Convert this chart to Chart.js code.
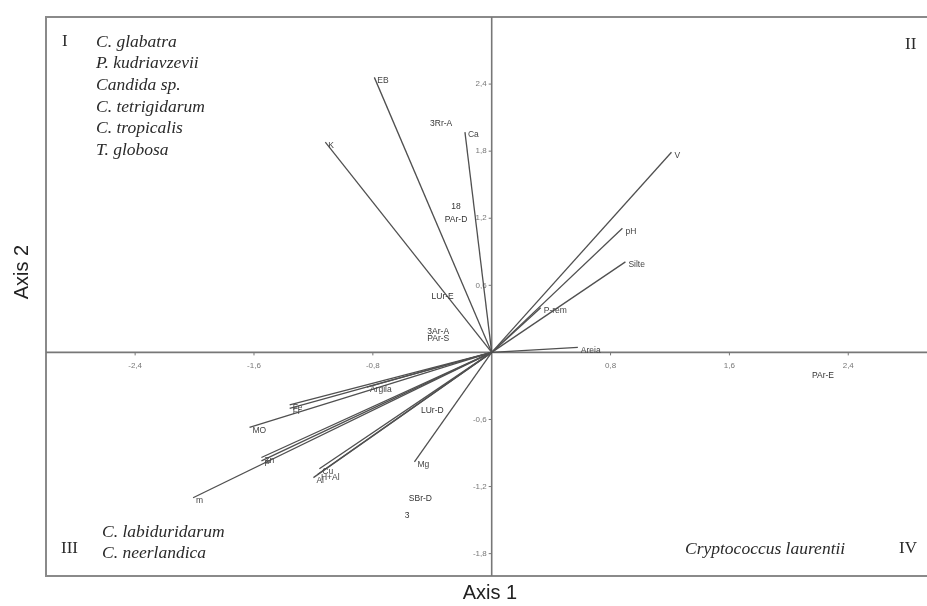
<!DOCTYPE html>
<html>
<head>
<meta charset="utf-8">
<script src="https://cdn.jsdelivr.net/npm/chart.js@4.4.1/dist/chart.umd.min.js"></script>
<style>
html,body{margin:0;padding:0;background:#fff;}
#wrap{width:927px;height:606px;position:relative;}
</style>
</head>
<body>
<div id="wrap"><canvas id="c" width="927" height="606"></canvas></div>
<script>
// Environmental vectors (biplot arrows)
const vectorNames = ['EB','K','Ca','V','pH','Silte','P-rem','Areia','Argila','Fr','Fe','MO','P','Zn','m','Cu','H+Al','Al','Mg'];
const vectorX = [-0.79,-1.12,-0.18,1.21,0.88,0.90,0.33,0.58,-0.84,-1.36,-1.36,-1.63,-1.55,-1.55,-2.01,-1.16,-1.17,-1.20,-0.52];
const vectorY = [2.46,1.88,1.97,1.79,1.11,0.81,0.40,0.045,-0.31,-0.50,-0.47,-0.67,-0.97,-0.94,-1.30,-1.04,-1.09,-1.12,-0.98];
// Sample labels
const sampleLabels = ['3Rr-A','18','PAr-D','LUr-E','3Ar-A','PAr-S','PAr-E','LUr-D','SBr-D','3'];
const sampleX = [-0.34,-0.24,-0.24,-0.33,-0.36,-0.36,2.23,-0.40,-0.48,-0.57];
const sampleY = [2.05,1.30,1.19,0.50,0.19,0.12,-0.21,-0.52,-1.31,-1.46];
// Axis ticks
const xTicks = [-2.4,-1.6,-0.8,0.8,1.6,2.4];
const yTicks = [2.4,1.8,1.2,0.6,-0.6,-1.2,-1.8];
const xRange = [-3.0, 2.93];
const yRange = [-2.0, 3.0];
// Quadrant texts
const quadI = ['C. glabatra','P. kudriavzevii','Candida sp.','C. tetrigidarum','C. tropicalis','T. globosa'];
const quadIII = ['C. labiduridarum','C. neerlandica'];
const quadIV = ['Cryptococcus laurentii'];

const datasets = vectorNames.map((n,i)=>({
  label:n,
  data:[{x:0,y:0},{x:vectorX[i],y:vectorY[i]}],
  showLine:true, borderColor:'#505050', borderWidth:1.3, pointRadius:0, fill:false
}));
datasets.push({
  label:'samples',
  data:sampleLabels.map((s,i)=>({x:sampleX[i],y:sampleY[i]})),
  showLine:false, pointRadius:0
});

const fmt = v => String(v).replace('.',',');

const decor = {
  id:'decor',
  beforeDatasetsDraw(chart){
    const {ctx, chartArea:a, scales:{x,y}} = chart;
    const ox = x.getPixelForValue(0), oy = y.getPixelForValue(0);
    ctx.save();
    // frame
    ctx.strokeStyle='#8a8a8a'; ctx.lineWidth=2;
    ctx.beginPath();
    ctx.moveTo(a.right+2,a.top); ctx.lineTo(a.left,a.top); ctx.lineTo(a.left,a.bottom); ctx.lineTo(a.right+2,a.bottom);
    ctx.stroke();
    // axes
    ctx.strokeStyle='#777'; ctx.lineWidth=1.6;
    ctx.beginPath();
    ctx.moveTo(a.left,oy); ctx.lineTo(a.right,oy);
    ctx.moveTo(ox,a.top); ctx.lineTo(ox,a.bottom);
    ctx.stroke();
    // ticks
    ctx.lineWidth=1; ctx.fillStyle='#777'; ctx.font='8px Arial, "Liberation Sans"';
    ctx.textAlign='center'; ctx.textBaseline='middle';
    xTicks.forEach(t=>{
      const px=x.getPixelForValue(t);
      ctx.beginPath(); ctx.moveTo(px,oy); ctx.lineTo(px,oy+3); ctx.stroke();
      ctx.fillText(fmt(t),px,oy+13);
    });
    ctx.textAlign='right';
    yTicks.forEach(t=>{
      const py=y.getPixelForValue(t);
      ctx.beginPath(); ctx.moveTo(ox-3,py); ctx.lineTo(ox,py); ctx.stroke();
      ctx.fillText(fmt(t),ox-5,py);
    });
    ctx.restore();
  },
  afterDatasetsDraw(chart){
    const {ctx, chartArea:a, scales:{x,y}} = chart;
    ctx.save();
    ctx.fillStyle='#444'; ctx.font='8.5px Arial, "Liberation Sans"';
    ctx.textAlign='left'; ctx.textBaseline='middle';
    vectorNames.forEach((n,i)=>{
      const px=x.getPixelForValue(vectorX[i]), py=y.getPixelForValue(vectorY[i]);
      ctx.fillText(n,px+3,py+3);
    });
    ctx.textAlign='center'; ctx.fillStyle='#333';
    sampleLabels.forEach((s,i)=>{
      ctx.fillText(s,x.getPixelForValue(sampleX[i]),y.getPixelForValue(sampleY[i]));
    });
    // quadrant texts
    ctx.fillStyle='#2a2a2a'; ctx.textAlign='left';
    ctx.font='17px "Liberation Serif", "DejaVu Serif", serif';
    ctx.fillText('I',a.left+16,42);
    ctx.fillText('II',905,45);
    ctx.fillText('III',a.left+15,549);
    ctx.fillText('IV',899,549);
    ctx.font='italic 17.5px "Liberation Serif", "DejaVu Serif", serif';
    quadI.forEach((s,i)=>ctx.fillText(s,96,42+i*21.7));
    quadIII.forEach((s,i)=>ctx.fillText(s,102,532+i*21));
    quadIV.forEach((s,i)=>ctx.fillText(s,685,549));
    // axis titles
    ctx.fillStyle='#222'; ctx.font='20px Arial, "Liberation Sans"'; ctx.textAlign='center';
    ctx.fillText('Axis 1',490,593);
    ctx.translate(22,272); ctx.rotate(-Math.PI/2);
    ctx.fillText('Axis 2',0,0);
    ctx.restore();
  }
};

new Chart(document.getElementById('c'),{
  type:'scatter',
  data:{datasets},
  options:{
    responsive:false, animation:false,
    layout:{padding:{left:46,top:17,right:0,bottom:30}},
    plugins:{legend:{display:false},tooltip:{enabled:false}},
    scales:{
      x:{type:'linear',min:xRange[0],max:xRange[1],display:false},
      y:{type:'linear',min:yRange[0],max:yRange[1],display:false}
    }
  },
  plugins:[decor]
});
</script>
</body>
</html>
